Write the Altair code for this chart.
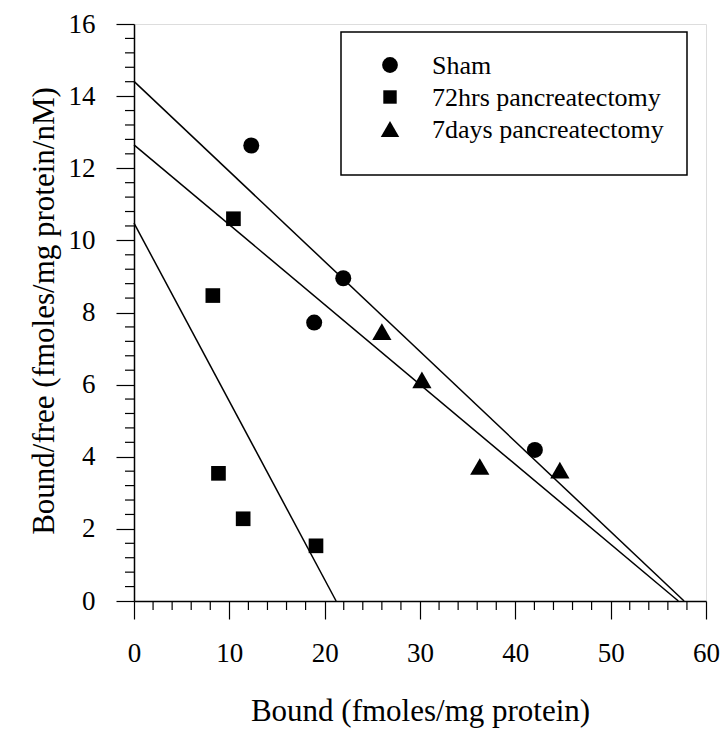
import altair as alt
import pandas as pd

# ---- data ----
groups = ["Sham", "72hrs pancreatectomy", "7days pancreatectomy"]

sham_x = [12.3, 21.95, 18.9, 42.05]
sham_y = [12.63, 8.95, 7.72, 4.19]

h72_x = [10.43, 8.27, 8.86, 11.45, 19.09]
h72_y = [10.6, 8.47, 3.54, 2.28, 1.53]

d7_x = [26.0, 30.2, 36.27, 44.67]
d7_y = [7.47, 6.13, 3.73, 3.63]

line_ids = ["Sham fit", "7days fit", "72hrs fit"]
line_y_int = [14.41, 12.65, 10.48]
line_x_int = [57.7, 57.1, 21.2]

x_major = [0, 10, 20, 30, 40, 50, 60]
y_major = [0, 2, 4, 6, 8, 10, 12, 14, 16]
x_minor = [v for v in range(0, 61, 2) if v % 10 != 0]
y_minor = [round(i * 0.4, 1) for i in range(41) if i % 5 != 0]

# ---- styles ----
shapes = ["circle", "square", "triangle-up"]
sizes = [256, 215, 370]
legend_sizes = [250, 180, 340]

# ---- tables ----
pts = pd.concat([
    pd.DataFrame({"x": sham_x, "y": sham_y, "group": groups[0]}),
    pd.DataFrame({"x": h72_x, "y": h72_y, "group": groups[1]}),
    pd.DataFrame({"x": d7_x, "y": d7_y, "group": groups[2]}),
], ignore_index=True)

lines = []
for lid, b, xi in zip(line_ids, line_y_int, line_x_int):
    lines.append({"id": lid, "x": 0.0, "y": b})
    lines.append({"id": lid, "x": xi, "y": 0.0})
lines = pd.DataFrame(lines)

xminor_df = pd.DataFrame({"x": x_minor})
yminor_df = pd.DataFrame({"y": y_minor})

W, H = 572, 577
FONT = "Liberation Serif"
XT = "Bound (fmoles/mg protein)"
YT = "Bound/free (fmoles/mg protein/nM)"

xscale = alt.Scale(domain=[0, 60], nice=False, zero=False)
yscale = alt.Scale(domain=[0, 16], nice=False, zero=False)

xaxis = alt.Axis(
    values=x_major, title=XT, grid=False,
    tickSize=18, labelPadding=21, labelFontSize=27, labelFont=FONT,
    labelColor="black", tickColor="black", domainColor="black",
    domainWidth=1.5, tickWidth=1.2, titleFont=FONT, titleFontSize=31,
    titleFontWeight="normal", titleColor="black",
    titleX=W / 2, titleY=119, titleBaseline="alphabetic", titleAlign="center",
    labelFlush=False,
)
yaxis = alt.Axis(
    values=y_major, title=YT, grid=False,
    tickSize=18, labelPadding=21, labelFontSize=27, labelFont=FONT,
    labelColor="black", tickColor="black", domainColor="black",
    domainWidth=1.5, tickWidth=1.2, titleFont=FONT, titleFontSize=31,
    titleFontWeight="normal", titleColor="black",
    titleX=-81, titleY=H / 2 - 2, titleAngle=-90, titleBaseline="alphabetic",
    titleAlign="center", labelFlush=False,
)

X = alt.X("x:Q", scale=xscale, axis=xaxis, title=XT)
Y = alt.Y("y:Q", scale=yscale, axis=yaxis, title=YT)

fit = alt.Chart(lines).mark_line(color="black", strokeWidth=1.5).encode(
    x=X, y=Y, detail="id:N",
)

xmin_ticks = alt.Chart(xminor_df).mark_rule(color="black", strokeWidth=1.2).encode(
    x=X, y=alt.value(H), y2=alt.value(H + 9),
)
ymin_ticks = alt.Chart(yminor_df).mark_rule(color="black", strokeWidth=1.2).encode(
    y=Y, x=alt.value(0), x2=alt.value(-9),
)

points = alt.Chart(pts).mark_point(filled=True, color="black", opacity=1).encode(
    x=X, y=Y,
    shape=alt.Shape("group:N", scale=alt.Scale(domain=groups, range=shapes), legend=None),
    size=alt.Size("group:N", scale=alt.Scale(type="ordinal", domain=groups, range=sizes), legend=None),
)

# ---- hand-drawn legend (box, symbols, labels) ----
legend_box = alt.Chart(pd.DataFrame({"k": [0]})).mark_rect(
    fill="white", stroke="black", strokeWidth=1.5
).encode(
    x=alt.value(207), x2=alt.value(553), y=alt.value(8), y2=alt.value(151)
)
legend_layers = []
for i, g in enumerate(groups):
    row = pd.DataFrame({"group": [g]})
    ly = 41 + 32 * i
    legend_layers.append(
        alt.Chart(row).mark_point(
            filled=True, color="black", opacity=1, shape=shapes[i],
            size=legend_sizes[i],
        ).encode(x=alt.value(256), y=alt.value(ly))
    )
    legend_layers.append(
        alt.Chart(row).mark_text(
            align="left", baseline="middle", font=FONT, fontSize=26, color="black",
        ).encode(x=alt.value(298), y=alt.value(ly + 1), text="group:N")
    )

chart = alt.layer(legend_box, fit, xmin_ticks, ymin_ticks, points, *legend_layers).properties(
    width=W, height=H,
    autosize=alt.AutoSizeParams(type="none"),
    padding={"left": 134, "top": 24, "right": 18, "bottom": 129},
    background="white",
).configure_view(
    stroke="black", strokeWidth=1.5
).configure_axis(
    labelFont=FONT, titleFont=FONT
).configure(font=FONT)

chart.save("out.html", embed_options={"renderer": "svg", "actions": False})
